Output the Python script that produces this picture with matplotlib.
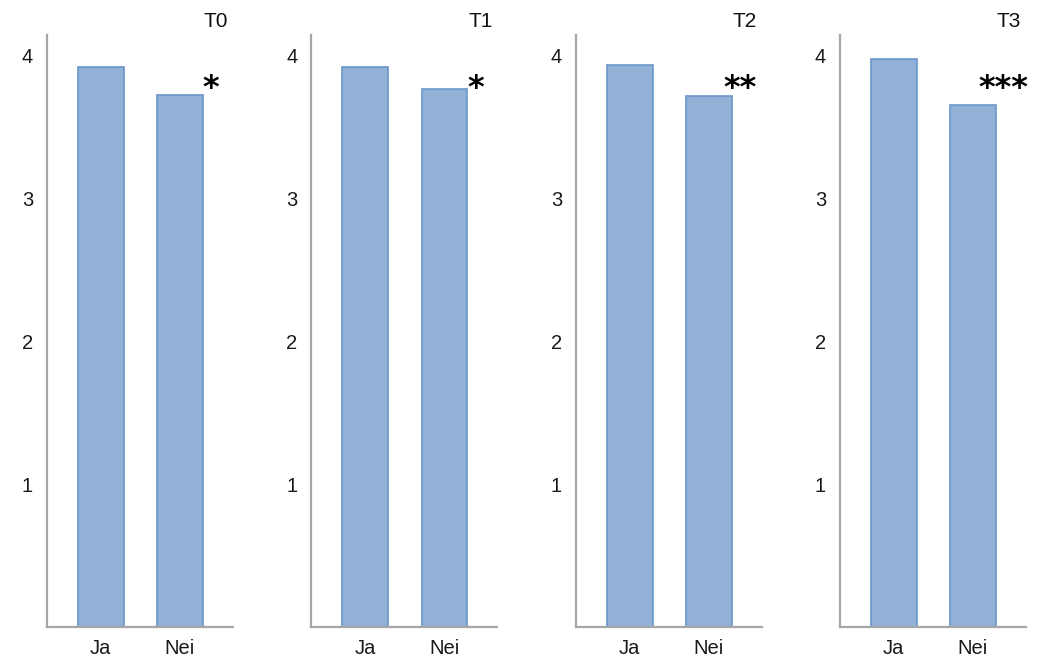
import matplotlib.pyplot as plt

plt.rcParams["font.family"] = ["Liberation Sans", "DejaVu Sans"]

# data
panels = ["T0", "T1", "T2", "T3"]
groups = ["Ja", "Nei"]
ja_values = [3.92, 3.92, 3.94, 3.98]
nei_values = [3.73, 3.77, 3.72, 3.66]
stars = ["*", "*", "**", "***"]
y_ticks = [1, 2, 3, 4]

BAR_FILL = "#93B1D6"
BAR_EDGE = "#6C96C9"
SPINE = "#A6A6A6"

fig = plt.figure(figsize=(10.53, 6.6), dpi=100)

W, H = 1053, 660
lefts = [47, 311.5, 576, 840]
width_px = 186
bottom_px, top_px = 627, 35

for i, name in enumerate(panels):
    ax = fig.add_axes([lefts[i] / W, 1 - bottom_px / H, width_px / W, (bottom_px - top_px) / H])
    vals = [ja_values[i], nei_values[i]]
    ax.bar(range(len(groups)), vals, width=0.58, color=BAR_FILL, edgecolor=BAR_EDGE, linewidth=1.2, zorder=2)

    ax.set_xlim(-0.68, 1.67)
    ax.set_ylim(0, 4.147)
    ax.set_xticks(range(len(groups)))
    ax.set_xticklabels(groups)
    ax.set_yticks(y_ticks)
    ax.tick_params(axis="both", length=0, labelsize=14.5, colors="#1a1a1a")
    ax.tick_params(axis="y", pad=10)
    ax.tick_params(axis="x", pad=8.5)

    for s in ("top", "right"):
        ax.spines[s].set_visible(False)
    for s in ("left", "bottom"):
        ax.spines[s].set_color(SPINE)
        ax.spines[s].set_linewidth(1.6)

    ax.text(1 - 5 / width_px, 1 + 8 / (bottom_px - top_px), name, transform=ax.transAxes,
            ha="right", va="baseline", fontsize=15, color="#111111")

    # significance stars next to the Nei bar
    ax.text(1.39, 3.71, stars[i], ha="center", va="baseline", fontsize=23,
            fontweight="bold", family="DejaVu Sans", color="black")

fig.savefig("out.png", dpi=100)
